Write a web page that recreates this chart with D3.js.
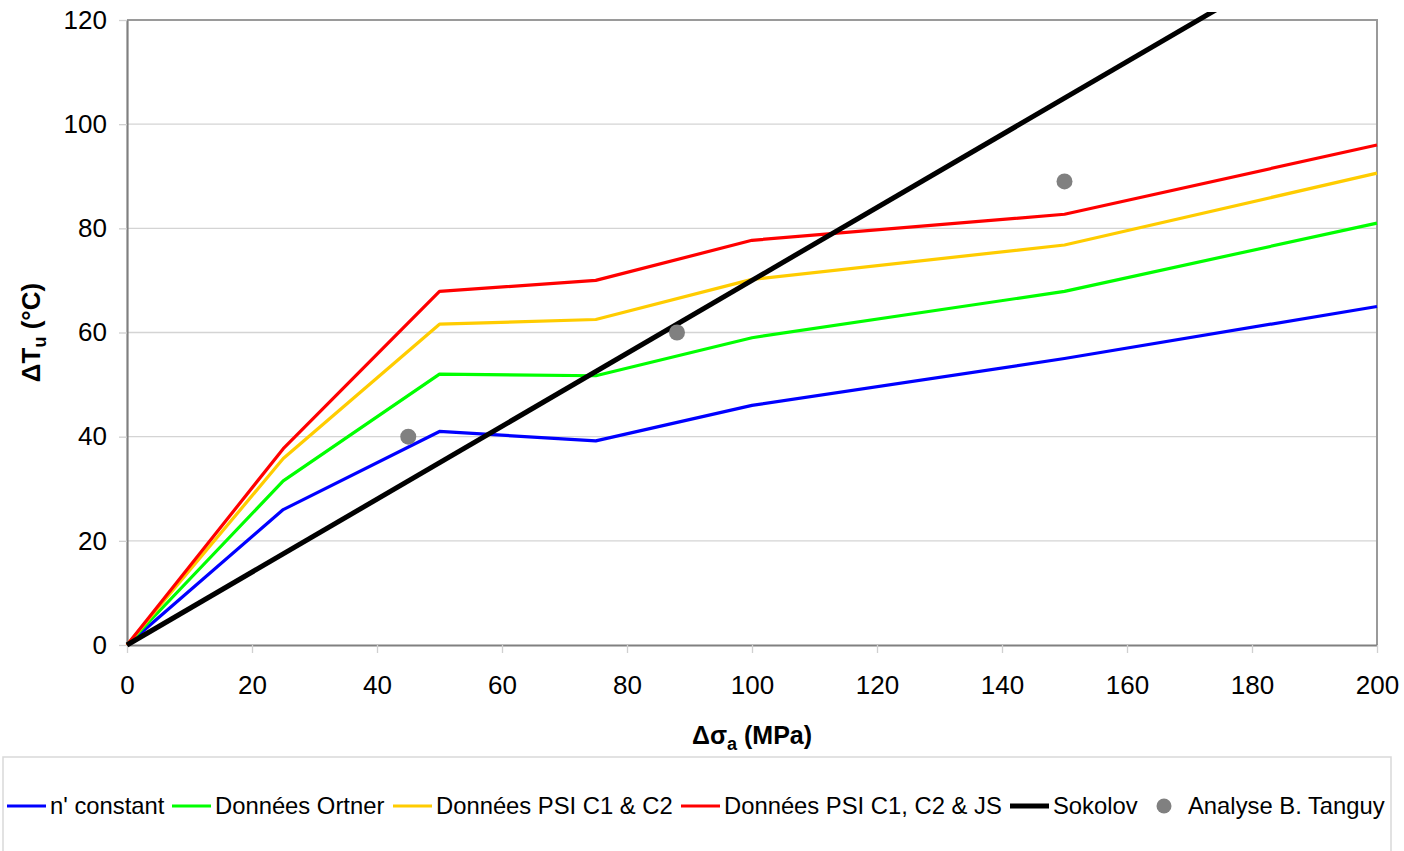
<!DOCTYPE html>
<html>
<head>
<meta charset="utf-8">
<script src="https://cdn.jsdelivr.net/npm/d3@7"></script>
<style>
  html, body { margin: 0; padding: 0; background: #fff; }
  svg { display: block; font-family: "Liberation Sans", Arial, sans-serif; }
</style>
</head>
<body>
<svg id="chart" width="1404" height="851"></svg>
<script>
// Stress amplitude (MPa) at which each model is evaluated
const stress = [0, 25, 50, 75, 100, 150, 200];

// Transition temperature shift ΔTu (°C) per model
const nConstant   = [0, 26, 41, 39.2, 46, 55, 65];
const ortner      = [0, 31.5, 52, 51.7, 59, 67.9, 81];
const psiC1C2     = [0, 35.8, 61.6, 62.5, 70.2, 76.8, 90.6];
const psiC1C2JS   = [0, 37.7, 67.9, 70, 77.7, 82.7, 96];

// Sokolov correlation
const sokolovStress = [0, 200];
const sokolovShift  = [0, 140];

// Analyse B. Tanguy points
const tanguyStress = [45, 88, 150];
const tanguyShift  = [40, 60, 89];

const xTicks = [0, 20, 40, 60, 80, 100, 120, 140, 160, 180, 200];
const yTicks = [0, 20, 40, 60, 80, 100, 120];

const seriesNames = ["n' constant", "Données Ortner", "Données PSI C1 & C2", "Données PSI C1, C2 & JS", "Sokolov", "Analyse B. Tanguy"];

const svg = d3.select("#chart");
const plot = { left: 127, right: 1377, top: 20, bottom: 645 };

const x = d3.scaleLinear().domain([0, 200]).range([plot.left, plot.right]);
const y = d3.scaleLinear().domain([0, 120]).range([plot.bottom, plot.top]);

// horizontal gridlines
svg.append("g")
  .selectAll("line")
  .data(yTicks.filter(v => v > 0 && v < 120))
  .join("line")
  .attr("x1", plot.left).attr("x2", plot.right)
  .attr("y1", d => y(d)).attr("y2", d => y(d))
  .attr("stroke", "#d4d4d4").attr("stroke-width", 1.3);

// frame (top and right)
svg.append("path")
  .attr("d", `M${plot.left},${plot.top}H${plot.right}V${plot.bottom}`)
  .attr("fill", "none").attr("stroke", "#9a9a9a").attr("stroke-width", 2);

// x axis
const xAxis = svg.append("g")
  .attr("transform", `translate(0,${plot.bottom})`)
  .call(d3.axisBottom(x).tickValues(xTicks).tickSize(8).tickPadding(23).tickSizeOuter(0));
xAxis.select(".domain").attr("stroke", "#808080").attr("stroke-width", 2.2);
xAxis.selectAll(".tick line").attr("stroke", "#d0d0d0").attr("stroke-width", 1.3);
xAxis.selectAll(".tick text").attr("font-size", 26).attr("fill", "#000")
  .attr("font-family", "Liberation Sans, Arial, sans-serif");

// y axis
const yAxis = svg.append("g")
  .attr("transform", `translate(${plot.left},0)`)
  .call(d3.axisLeft(y).tickValues(yTicks).tickSize(8).tickPadding(12).tickSizeOuter(0));
yAxis.select(".domain").attr("stroke", "#808080").attr("stroke-width", 2.2);
yAxis.selectAll(".tick line").attr("stroke", "#d0d0d0").attr("stroke-width", 1.3);
yAxis.selectAll(".tick text").attr("font-size", 26).attr("fill", "#000")
  .attr("font-family", "Liberation Sans, Arial, sans-serif");

// axis titles
const xTitle = svg.append("text")
  .attr("x", (plot.left + plot.right) / 2).attr("y", 744)
  .attr("text-anchor", "middle").attr("font-size", 25).attr("font-weight", "bold");
xTitle.append("tspan").text("Δσ");
xTitle.append("tspan").attr("font-size", 18).attr("dy", 6).text("a");
xTitle.append("tspan").attr("dy", -6).text(" (MPa)");

const yTitle = svg.append("text")
  .attr("transform", `translate(40,${(plot.top + plot.bottom) / 2}) rotate(-90)`)
  .attr("text-anchor", "middle").attr("font-size", 26).attr("font-weight", "bold");
yTitle.append("tspan").text("ΔT");
yTitle.append("tspan").attr("font-size", 18).attr("dy", 6).text("u");
yTitle.append("tspan").attr("dy", -6).text(" (°C)");

// model curves
const line = d3.line().x(d => x(d[0])).y(d => y(d[1]));
const curves = [
  { values: nConstant, color: "#0000ff" },
  { values: ortner,    color: "#00ff00" },
  { values: psiC1C2,   color: "#ffcc00" },
  { values: psiC1C2JS, color: "#ff0000" }
];
curves.forEach(c => {
  svg.append("path")
    .datum(stress.map((s, i) => [s, c.values[i]]))
    .attr("d", line)
    .attr("fill", "none").attr("stroke", c.color).attr("stroke-width", 3.2)
    .attr("stroke-linejoin", "round");
});

// Sokolov line, allowed to run slightly past the top frame
svg.append("clipPath").attr("id", "sokolovClip")
  .append("rect")
  .attr("x", plot.left - 5).attr("y", plot.top - 8)
  .attr("width", plot.right - plot.left + 10).attr("height", plot.bottom - plot.top + 13);
svg.append("path")
  .datum(sokolovStress.map((s, i) => [s, sokolovShift[i]]))
  .attr("d", line)
  .attr("clip-path", "url(#sokolovClip)")
  .attr("fill", "none").attr("stroke", "#000").attr("stroke-width", 5);

// Tanguy points
svg.append("g")
  .selectAll("circle")
  .data(tanguyStress.map((s, i) => [s, tanguyShift[i]]))
  .join("circle")
  .attr("cx", d => x(d[0])).attr("cy", d => y(d[1])).attr("r", 8)
  .attr("fill", "#808080");

// legend
svg.append("rect")
  .attr("x", 3).attr("y", 757).attr("width", 1388).attr("height", 110)
  .attr("fill", "#fff").attr("stroke", "#d9d9d9").attr("stroke-width", 1.5);

const legendItems = [
  { name: seriesNames[0], color: "#0000ff", kind: "line", w: 3.2, x0: 7 },
  { name: seriesNames[1], color: "#00ff00", kind: "line", w: 3.2, x0: 172 },
  { name: seriesNames[2], color: "#ffcc00", kind: "line", w: 3.2, x0: 393 },
  { name: seriesNames[3], color: "#ff0000", kind: "line", w: 3.2, x0: 681 },
  { name: seriesNames[4], color: "#000000", kind: "line", w: 5, x0: 1010 },
  { name: seriesNames[5], color: "#808080", kind: "dot",  w: 0, x0: 1157 }
];
const legendY = 806;
legendItems.forEach(it => {
  const g = svg.append("g");
  if (it.kind === "line") {
    g.append("line")
      .attr("x1", it.x0).attr("x2", it.x0 + 39)
      .attr("y1", legendY).attr("y2", legendY)
      .attr("stroke", it.color).attr("stroke-width", it.w);
    g.append("text").attr("x", it.x0 + 43).attr("y", legendY + 8)
      .attr("font-size", 23.8).attr("fill", "#000").text(it.name);
  } else {
    g.append("circle").attr("cx", it.x0 + 7).attr("cy", legendY).attr("r", 7.5)
      .attr("fill", it.color);
    g.append("text").attr("x", it.x0 + 31).attr("y", legendY + 8)
      .attr("font-size", 23.8).attr("fill", "#000").text(it.name);
  }
});
</script>
</body>
</html>
